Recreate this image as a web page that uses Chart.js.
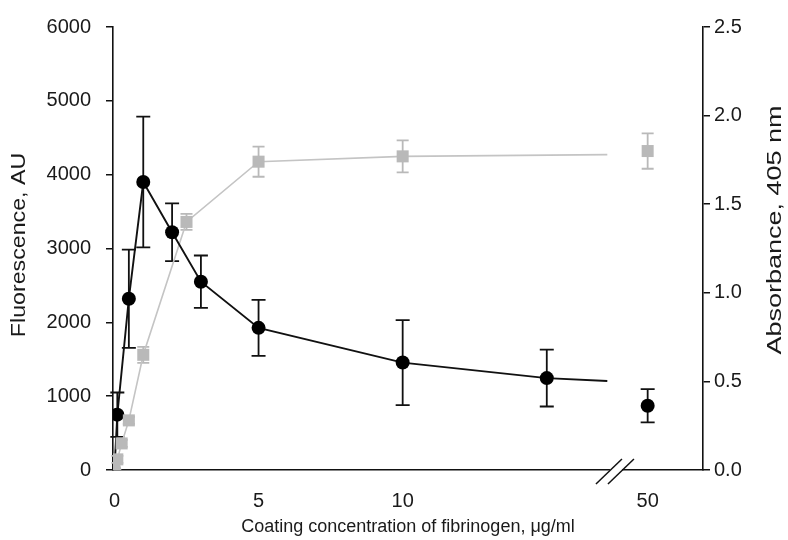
<!DOCTYPE html>
<html>
<head>
<meta charset="utf-8">
<script src="https://cdn.jsdelivr.net/npm/chart.js@4.4.0/dist/chart.umd.min.js"></script>
<style>
html, body { margin: 0; padding: 0; background: #fff; }
</style>
</head>
<body>
<canvas id="myChart" width="788" height="540"></canvas>
<script>
// 형광 (왼쪽 축, 검은 원)
var fluorConc = [0, 0.1, 0.5, 1, 2, 3, 5, 10, 15, 50];
var fluorVal = [0, 750, 2320, 3900, 3220, 2550, 1925, 1455, 1245, 870];
var fluorErr = [0, 300, 665, 885, 390, 355, 380, 575, 385, 225];
var fluorLineEnd = [17.1, 1205];

// 흡광도 (오른쪽 축, 회색 사각형)
var absConc = [0, 0.1, 0.25, 0.5, 1, 2.5, 5, 10, 50];
var absVal = [0, 0.06, 0.15, 0.28, 0.65, 1.40, 1.74, 1.77, 1.80];
var absErr = [0, 0.02, 0.02, 0.02, 0.045, 0.045, 0.085, 0.09, 0.1];
var absLineEnd = [17.1, 1.78];

var xTicks = [0, 5, 10, 50];
var leftTicks = [0, 1000, 2000, 3000, 4000, 5000, 6000];
var rightTicks = [0, 0.5, 1.0, 1.5, 2.0, 2.5];

// 축 끊김: 50 은 18.5 위치에 그림
var BREAK_AT = 17.4;
var FAR_POS = 18.5;
function xPos(c) { return c > 20 ? FAR_POS : c; }

function points(xs, ys) {
	return xs.map(function(c, i) { return { x: xPos(c), y: ys[i] }; });
}
function linePoints(xs, ys, end) {
	var pts = [];
	xs.forEach(function(c, i) { if (c <= 20) pts.push({ x: c, y: ys[i] }); });
	pts.push({ x: end[0], y: end[1] });
	return pts;
}

var BLACK = '#111111';
var GREY = '#b9b9b9';
var TEXT = '#1a1a1a';

// 오차막대
var errorBars = {
	id: 'errorBars',
	beforeDatasetsDraw: function(chart) {
		var ctx = chart.ctx;
		var x = chart.scales.x;
		function draw(xs, ys, es, yScale, color, cap, lw) {
			ctx.save();
			ctx.strokeStyle = color;
			ctx.lineWidth = lw;
			xs.forEach(function(c, i) {
				if (!es[i]) return;
				var px = x.getPixelForValue(xPos(c));
				var top = yScale.getPixelForValue(ys[i] + es[i]);
				var bot = yScale.getPixelForValue(ys[i] - es[i]);
				ctx.beginPath();
				ctx.moveTo(px, top); ctx.lineTo(px, bot);
				ctx.moveTo(px - cap, top); ctx.lineTo(px + cap, top);
				ctx.moveTo(px - cap, bot); ctx.lineTo(px + cap, bot);
				ctx.stroke();
			});
			ctx.restore();
		}
		draw(fluorConc, fluorVal, fluorErr, chart.scales.yL, BLACK, 7, 1.8);
		draw(absConc, absVal, absErr, chart.scales.yR, GREY, 6, 1.8);
	}
};

// x축 끊김 표시 + 세로 축 제목 (둘 다 아래에서 위로 읽힘)
var decorations = {
	id: 'decorations',
	afterDraw: function(chart) {
		var ctx = chart.ctx;
		var xc = chart.scales.x.getPixelForValue(BREAK_AT);
		var y = chart.chartArea.bottom;
		ctx.save();
		ctx.fillStyle = '#fff';
		ctx.fillRect(xc - 6, y - 2, 12, 4);
		ctx.strokeStyle = BLACK;
		ctx.lineWidth = 1.5;
		[-6, 6].forEach(function(d) {
			ctx.beginPath();
			ctx.moveTo(xc + d - 14, y + 14);
			ctx.lineTo(xc + d + 12, y - 11);
			ctx.stroke();
		});
		ctx.restore();

		function vTitle(text, cx, cy, size, stretch) {
			ctx.save();
			ctx.translate(cx, cy);
			ctx.rotate(-Math.PI / 2);
			ctx.scale(stretch, 1);
			ctx.font = size + 'px "Liberation Sans"';
			ctx.fillStyle = TEXT;
			ctx.textAlign = 'center';
			ctx.textBaseline = 'middle';
			ctx.fillText(text, 0, 0);
			ctx.restore();
		}
		vTitle('Fluorescence, AU', 19, 245, 20, 1.16);
		vTitle('Absorbance, 405 nm', 775, 230, 20, 1.35);
	}
};

var originColors = fluorConc.map(function(c, i) { return i === 0 ? GREY : '#000'; });

var ctx = document.getElementById('myChart');
var myChart = new Chart(ctx, {
	type: 'line',
	data: {
		datasets: [{
			label: 'Absorbance',
			data: points(absConc, absVal),
			yAxisID: 'yR',
			showLine: false,
			pointStyle: 'rect',
			pointRadius: 8.5,
			backgroundColor: GREY,
			borderColor: GREY,
			borderWidth: 0,
			order: 0
		}, {
			label: 'Fluorescence',
			data: points(fluorConc, fluorVal),
			yAxisID: 'yL',
			showLine: false,
			pointStyle: 'circle',
			pointRadius: 7,
			pointBackgroundColor: originColors,
			pointBorderColor: originColors,
			borderWidth: 0,
			order: 1
		}, {
			label: 'Fluorescence line',
			data: linePoints(fluorConc, fluorVal, fluorLineEnd),
			yAxisID: 'yL',
			borderColor: BLACK,
			borderWidth: 1.9,
			pointRadius: 0,
			tension: 0,
			order: 2
		}, {
			label: 'Absorbance line',
			data: linePoints(absConc, absVal, absLineEnd),
			yAxisID: 'yR',
			borderColor: '#c4c4c4',
			borderWidth: 1.6,
			pointRadius: 0,
			tension: 0,
			order: 3
		}]
	},
	options: {
		responsive: false,
		animation: false,
		layout: { padding: { top: 23, left: 0, right: 0, bottom: 0 } },
		plugins: {
			legend: { display: false },
			tooltip: { enabled: false }
		},
		scales: {
			x: {
				type: 'linear',
				min: -0.05,
				max: 20.42,
				afterFit: function(s) { s.height = 70; },
				afterBuildTicks: function(s) {
					s.ticks = xTicks.map(function(v) { return { value: xPos(v) }; });
				},
				ticks: {
					padding: 11,
					color: TEXT,
					font: { family: 'Liberation Sans', size: 20 },
					callback: function(v) { return v === FAR_POS ? '50' : String(v); }
				},
				grid: { display: false },
				border: { display: true, color: BLACK, width: 1.6 },
				title: {
					display: true,
					text: 'Coating concentration of fibrinogen, \u03bcg/ml',
					color: TEXT,
					font: { family: 'Liberation Sans', size: 18 },
					padding: { top: 0, bottom: 2 }
				}
			},
			yL: {
				position: 'left',
				min: 0,
				max: 6000,
				afterFit: function(s) { s.width = 113; },
				afterBuildTicks: function(s) {
					s.ticks = leftTicks.map(function(v) { return { value: v }; });
				},
				ticks: {
					padding: 15,
					color: TEXT,
					font: { family: 'Liberation Sans', size: 20 },
					callback: function(v) { return String(v); }
				},
				grid: { drawOnChartArea: false, tickLength: 7, color: BLACK, lineWidth: 1.5 },
				border: { display: true, color: BLACK, width: 1.6 }
			},
			yR: {
				position: 'right',
				min: 0,
				max: 2.5,
				afterFit: function(s) { s.width = 85; },
				afterBuildTicks: function(s) {
					s.ticks = rightTicks.map(function(v) { return { value: v }; });
				},
				ticks: {
					padding: 4,
					color: TEXT,
					font: { family: 'Liberation Sans', size: 20 },
					callback: function(v) { return v.toFixed(1); }
				},
				grid: { drawOnChartArea: false, tickLength: 7, color: BLACK, lineWidth: 1.5 },
				border: { display: true, color: BLACK, width: 1.6 }
			}
		}
	},
	plugins: [errorBars, decorations]
});
</script>
</body>
</html>
